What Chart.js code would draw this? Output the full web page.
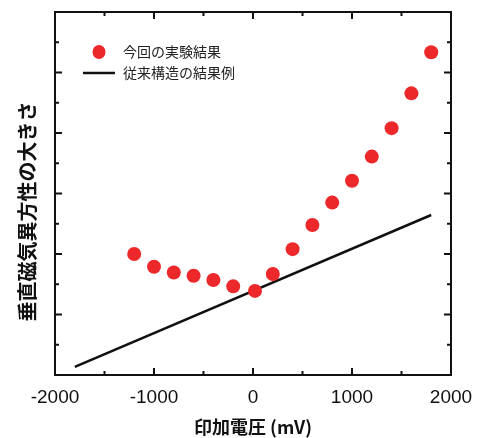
<!DOCTYPE html>
<html>
<head>
<meta charset="utf-8">
<script src="https://cdn.jsdelivr.net/npm/chart.js@4"></script>
<style>
  html, body { margin: 0; padding: 0; background: #fff; }
</style>
</head>
<body>
<canvas id="chart" width="491" height="438"></canvas>
<script>
// data
var voltage = [-1200, -1000, -800, -600, -400, -200, 20, 200, 400, 600, 800, 1000, 1200, 1400, 1600, 1800];
var anisotropy = [4.0, 3.58, 3.39, 3.28, 3.14, 2.93, 2.78, 3.34, 4.16, 4.96, 5.70, 6.42, 7.22, 8.16, 9.31, 10.67];
var refVoltage = [-1800, 1800];
var refAnisotropy = [0.27, 5.29];
var xTicks = [-2000, -1000, 0, 1000, 2000];

var seriesNames = ["今回の実験結果", "従来構造の結果例"];
var xTitle = "印加電圧 (mV)";
var yTitle = "垂直磁気異方性の大きさ";

var red = 'rgb(236, 40, 42)';
var cjk = '"Noto Sans CJK JP", "Noto Sans", sans-serif';

function toPoints(xs, ys) {
  return xs.map(function (x, i) { return { x: x, y: ys[i] }; });
}

// frame, inward ticks on all four sides, y title and the inset legend
var framePlugin = {
  id: 'frame',
  afterDraw: function (chart) {
    var c = chart.ctx, a = chart.chartArea;
    var xs = chart.scales.x, ys = chart.scales.y;
    c.save();
    c.strokeStyle = '#111';
    c.lineWidth = 2;
    c.strokeRect(a.left, a.top, a.right - a.left, a.bottom - a.top);

    c.beginPath();
    for (var v = -2000; v <= 2000; v += 500) {
      var px = xs.getPixelForValue(v);
      var len = (v % 1000 === 0) ? 7 : 4;
      c.moveTo(px, a.bottom); c.lineTo(px, a.bottom - len);
      c.moveTo(px, a.top); c.lineTo(px, a.top + len);
    }
    for (var k = 0; k <= 12; k++) {
      var py = ys.getPixelForValue(k);
      var l = (k % 2 === 0) ? 7 : 4;
      c.moveTo(a.left, py); c.lineTo(a.left + l, py);
      c.moveTo(a.right, py); c.lineTo(a.right - l, py);
    }
    c.stroke();

    // y axis title
    c.save();
    c.translate(a.left - 28, (a.top + a.bottom) / 2 + 18);
    c.rotate(-Math.PI / 2);
    c.fillStyle = '#111';
    c.font = 'bold 20px ' + cjk;
    c.textAlign = 'center';
    c.textBaseline = 'middle';
    c.fillText(yTitle, 0, 0);
    c.restore();

    // legend
    var lx = a.left + 44, ly1 = a.top + 40, ly2 = a.top + 61;
    c.fillStyle = red;
    c.beginPath();
    c.ellipse(lx, ly1, 6.5, 7, 0, 0, Math.PI * 2);
    c.fill();
    c.strokeStyle = '#111';
    c.lineWidth = 2.5;
    c.beginPath();
    c.moveTo(lx - 16, ly2); c.lineTo(lx + 16, ly2);
    c.stroke();
    c.fillStyle = '#222';
    c.font = '14px ' + cjk;
    c.textAlign = 'left';
    c.textBaseline = 'middle';
    c.fillText(seriesNames[0], lx + 24, ly1);
    c.fillText(seriesNames[1], lx + 24, ly2);
    c.restore();
  }
};

new Chart(document.getElementById('chart'), {
  type: 'scatter',
  data: {
    datasets: [
      {
        label: seriesNames[1],
        data: toPoints(refVoltage, refAnisotropy),
        showLine: true,
        borderColor: '#111',
        borderWidth: 2.5,
        pointRadius: 0,
        order: 2
      },
      {
        label: seriesNames[0],
        data: toPoints(voltage, anisotropy),
        backgroundColor: red,
        borderColor: red,
        pointRadius: 7,
        pointBorderWidth: 0,
        order: 1
      }
    ]
  },
  options: {
    responsive: false,
    animation: false,
    layout: { padding: { left: 55, right: 40, top: 12, bottom: 0 } },
    plugins: {
      legend: { display: false },
      tooltip: { enabled: false }
    },
    scales: {
      x: {
        type: 'linear',
        min: -2000,
        max: 2000,
        afterBuildTicks: function (axis) {
          axis.ticks = xTicks.map(function (v) { return { value: v }; });
        },
        afterFit: function (axis) {
          axis.height = 63;
        },
        grid: { display: false, drawTicks: false },
        border: { display: false },
        ticks: {
          padding: 11,
          color: '#111',
          font: { family: '"Liberation Sans", Arial, sans-serif', size: 19 },
          maxRotation: 0,
          callback: function (value) { return String(value); }
        },
        title: {
          display: true,
          text: xTitle,
          color: '#111',
          font: { family: cjk, size: 18, weight: 'bold' },
          padding: { top: 8, bottom: 0 }
        }
      },
      y: {
        type: 'linear',
        min: 0,
        max: 12,
        display: false
      }
    }
  },
  plugins: [framePlugin]
});
</script>
</body>
</html>
